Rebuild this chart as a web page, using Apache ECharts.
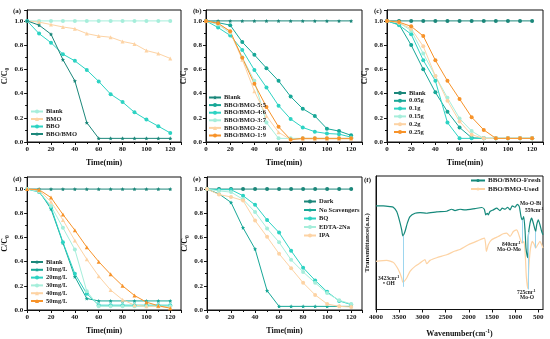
<!DOCTYPE html>
<html><head><meta charset="utf-8">
<script src="https://cdn.jsdelivr.net/npm/echarts@6/dist/echarts.min.js"></script>
<style>html,body{margin:0;padding:0;background:#fff}#c{width:550px;height:339px}</style>
</head><body><div id="c"></div>
<script>
// ---------- data ----------
const timeMin = [0,10,20,30,40,50,60,70,80,90,100,110,120];
const timeTicks = [0,20,40,60,80,100,120];
const yTicks = [0.0,0.2,0.4,0.6,0.8,1.0];

// (a)
const aNames = ['Blank','BMO','BBO','BBO/BMO'];
const aBlank = [1,1,1,1,1,1,1,1,1,1,1,1,1];
const aBMO = [1.0,0.99,0.97,0.95,0.935,0.895,0.875,0.865,0.83,0.81,0.755,0.73,0.69];
const aBBO = [1.0,0.895,0.82,0.725,0.67,0.595,0.50,0.395,0.33,0.245,0.185,0.13,0.075];
const aBBOBMO = [1.0,0.965,0.89,0.68,0.505,0.16,0.03,0.03,0.03,0.03,0.03,0.03,0.03];

// (b)
const bNames = ['Blank','BBO/BMO-5:5','BBO/BMO-4:6','BBO/BMO-3:7','BBO/BMO-2:8','BBO/BMO-1:9'];
const bBlank = [1,1,1,1,1,1,1,1,1,1,1,1,1];
const b55 = [1,0.985,0.965,0.825,0.72,0.61,0.505,0.375,0.275,0.215,0.11,0.09,0.055];
const b46 = [1,0.945,0.88,0.76,0.595,0.45,0.30,0.19,0.12,0.085,0.07,0.065,0.04];
const b37 = [1,0.97,0.90,0.70,0.505,0.16,0.03,0.03,0.03,0.03,0.03,0.03,0.03];
const b28 = [1,0.98,0.91,0.68,0.42,0.215,0.08,0.02,0.025,0.025,0.025,0.025,0.025];
const b19 = [1,0.98,0.915,0.695,0.48,0.29,0.125,0.02,0.03,0.03,0.03,0.03,0.03];

// (c)
const cNames = ['Blank','0.05g','0.1g','0.15g','0.2g','0.25g'];
const cBlank = [1,1,1,1,1,1,1,1,1,1,1,1,1];
const c005 = [1,0.97,0.80,0.60,0.41,0.25,0.12,0.035,0.03,0.03,0.03,0.03,0.03];
const c01 = [1,0.965,0.89,0.675,0.505,0.16,0.03,0.03,0.03,0.03,0.03,0.03,0.03];
const c015 = [1,0.985,0.92,0.73,0.545,0.365,0.195,0.09,0.03,0.03,0.03,0.03,0.03];
const c02 = [1,0.985,0.935,0.79,0.545,0.34,0.17,0.06,0.03,0.03,0.03,0.03,0.03];
const c025 = [1,0.99,0.955,0.875,0.675,0.505,0.355,0.205,0.10,0.03,0.03,0.03,0.03];

// (d)
const dNames = ['Blank','10mg/L','20mg/L','30mg/L','40mg/L','50mg/L'];
const dBlank = [1,1,1,1,1,1,1,1,1,1,1,1,1];
const d10 = [1,0.985,0.835,0.555,0.275,0.095,0.075,0.075,0.075,0.075,0.075,0.075,0.075];
const d20 = [1,0.975,0.85,0.56,0.30,0.135,0.04,0.04,0.04,0.04,0.04,0.04,0.04];
const d30 = [1,0.98,0.86,0.68,0.50,0.155,0.03,0.03,0.03,0.03,0.03,0.03,0.03];
const d40 = [1,0.99,0.895,0.745,0.575,0.42,0.28,0.165,0.085,0.04,0.03,0.03,0.02];
const d50 = [1,0.995,0.93,0.79,0.66,0.52,0.40,0.295,0.20,0.12,0.065,0.035,0.015];

// (e)
const eNames = ['Dark','No Scavengers','BQ','EDTA-2Na','IPA'];
const eDark = [1,1,1,1,1,1,1,1,1,1,1,1,1];
const eNo = [1,0.96,0.89,0.68,0.505,0.16,0.03,0.03,0.03,0.03,0.03,0.03,0.03];
const eBQ = [1,0.995,0.995,0.945,0.87,0.745,0.64,0.49,0.35,0.245,0.15,0.075,0.045];
const eEDTA = [1,0.985,0.975,0.915,0.81,0.675,0.56,0.415,0.315,0.225,0.14,0.08,0.05];
const eIPA = [1,0.955,0.935,0.905,0.74,0.605,0.465,0.345,0.225,0.125,0.05,0.03,0.025];

// (f) FTIR
const fNames = ['BBO/BMO-Fresh','BBO/BMO-Used'];
const waveTicks = [4000,3500,3000,2500,2000,1500,1000,500];
const freshWave = [4000,3842,3698,3627,3554,3498,3446,3423,3375,3325,3267,3159,3051,2907,2692,2476,2368,2297,2189,2082,1866,1722,1665,1635,1601,1579,1543,1471,1399,1327,1277,1219,1161,1111,1062,1004,954,911,874,846,816,788,767,740,725,717,680,644,609,559,536,501,465,428,400];
const freshT = [77.6,77.6,77.1,76.6,73.4,67.2,59.7,55.2,58.4,64.7,69.6,72.1,72.6,72.1,73.1,73.6,75.1,74.1,75.1,74.6,75.6,76.4,75.1,70.9,72.1,70.9,73.4,74.6,75.9,74.1,75.9,75.1,76.6,74.6,77.6,76.6,78.8,77.1,69.6,67.2,69.6,59.7,46,40,38.8,54.7,64.7,68.4,64.7,58.4,63.4,67.2,63.4,58.4,56];
const usedWave = [4000,3769,3627,3519,3446,3423,3338,3267,3159,3051,2944,2907,2836,2692,2476,2297,2189,2010,1795,1665,1635,1620,1579,1507,1363,1256,1183,1111,1040,967,932,874,840,810,781,760,740,725,708,673,630,587,559,514,465,428,400];
const usedT = [36.1,36.8,35.3,29.9,23.6,20.4,23.6,28.6,32.3,34.8,37.3,34.3,36.8,38.8,41,43.8,45,48.5,51.7,53.5,48.5,43.5,48.5,52.2,54.7,56.7,57.2,54.7,58.4,59.7,57.2,51,49.8,51,39.8,24.9,18,15.7,29.9,44.8,51,48.5,46,48.5,51,48.5,46];
const annoWave = [3423,840,725,559];
const annoTop = [55.2,67.2,58,58.4];
const annoBottom = [17,49.8,15,46];

// ---------- styling ----------
const FF = '"Liberation Serif","Times New Roman",serif';
const C = {dark:'#1b877a', teal:'#17a797', cyan:'#2dd3c3', lcyan:'#a6eedb', lor:'#fdd3a4', or:'#f7932a', blue:'#9dd6ef', ink:'#111'};

const grids = [
  {left:26, top:10, width:155, height:132},
  {left:206, top:10, width:156, height:132},
  {left:387, top:10, width:156, height:132},
  {left:26, top:177, width:155, height:133},
  {left:207, top:177, width:155, height:133},
  {left:376, top:176, width:167, height:134}
].map(g => Object.assign({show:true, borderColor:C.ink, borderWidth:1, backgroundColor:'transparent'}, g));

function tAxis(gi){
  return {gridIndex:gi, type:'value', min:0, max:129, interval:20,
    name:'Time(min)', nameLocation:'middle', nameGap:17,
    nameTextStyle:{fontFamily:FF, fontWeight:'bold', fontSize:8, color:C.ink},
    axisLine:{show:true, lineStyle:{color:C.ink, width:1}},
    axisTick:{show:true, length:3, lineStyle:{color:C.ink}},
    minorTick:{show:true, splitNumber:2, length:2, lineStyle:{color:C.ink}},
    splitLine:{show:false},
    axisLabel:{fontFamily:FF, fontWeight:'bold', fontSize:7, color:C.ink, margin:4, showMaxLabel:false,
      formatter: v => timeTicks.indexOf(v) >= 0 ? String(v) : ''}};
}
function cAxis(gi, max){
  return {gridIndex:gi, type:'value', min:0, max:max, interval:0.2,
    name:'C/C{s|0}', nameLocation:'middle', nameGap:14,
    nameTextStyle:{fontFamily:FF, fontWeight:'bold', fontSize:8, color:C.ink,
      rich:{s:{fontFamily:FF, fontWeight:'bold', fontSize:5.5, color:C.ink, padding:[5,0,0,0]}}},
    axisLine:{show:true, lineStyle:{color:C.ink, width:1}},
    axisTick:{show:true, length:3, lineStyle:{color:C.ink}},
    minorTick:{show:true, splitNumber:2, length:2, lineStyle:{color:C.ink}},
    splitLine:{show:false},
    axisLabel:{fontFamily:FF, fontWeight:'bold', fontSize:7, color:C.ink, margin:4, showMaxLabel:false,
      formatter: v => yTicks.some(t => Math.abs(t - v) < 1e-6) ? v.toFixed(1) : ''}};
}

const uniq = (name, k) => name + '\u200b'.repeat(k);

function ser(name, gi, arr, color, symbol){
  return {name:name, type:'line', xAxisIndex:gi, yAxisIndex:gi,
    data: timeMin.map((t,i) => [t, arr[i]]),
    symbol: symbol || 'circle', symbolSize:4, showSymbol:true,
    lineStyle:{color:color, width:1}, itemStyle:{color:color}, animation:false};
}

const star = 'path://M0,-10 L2.9,-4 L9.5,-3.1 L4.8,1.5 L5.9,8.1 L0,5 L-5.9,8.1 L-4.8,1.5 L-9.5,-3.1 L-2.9,-4 Z';

const series = [
  ser(uniq(aNames[0],0),0,aBlank,C.lcyan,'circle'),
  ser(aNames[1],0,aBMO,C.lor,'triangle'),
  ser(aNames[2],0,aBBO,C.cyan,'circle'),
  ser(aNames[3],0,aBBOBMO,C.dark,star),

  ser(uniq(bNames[0],1),1,bBlank,C.dark,star),
  ser(bNames[1],1,b55,C.teal,'circle'),
  ser(bNames[2],1,b46,C.cyan,'circle'),
  ser(bNames[3],1,b37,C.lcyan,'circle'),
  ser(bNames[4],1,b28,C.lor,'triangle'),
  ser(bNames[5],1,b19,C.or,'circle'),

  ser(uniq(cNames[0],2),2,cBlank,C.dark,'circle'),
  ser(cNames[1],2,c005,C.teal,'circle'),
  ser(cNames[2],2,c01,C.cyan,'circle'),
  ser(cNames[3],2,c015,C.lcyan,'circle'),
  ser(cNames[4],2,c02,C.lor,'circle'),
  ser(cNames[5],2,c025,C.or,'circle'),

  ser(uniq(dNames[0],3),3,dBlank,C.dark,star),
  ser(dNames[1],3,d10,C.teal,star),
  ser(dNames[2],3,d20,C.cyan,'circle'),
  ser(dNames[3],3,d30,C.lcyan,'circle'),
  ser(dNames[4],3,d40,C.lor,'triangle'),
  ser(dNames[5],3,d50,C.or,'triangle'),

  ser(eNames[0],4,eDark,C.dark,'circle'),
  ser(eNames[1],4,eNo,C.teal,star),
  ser(eNames[2],4,eBQ,C.cyan,'circle'),
  ser(eNames[3],4,eEDTA,C.lcyan,'circle'),
  ser(eNames[4],4,eIPA,C.lor,'circle'),

  {name:fNames[1], type:'line', xAxisIndex:5, yAxisIndex:5, data: usedWave.map((w,i)=>[w, usedT[i]]),
    showSymbol:false, symbol:'none', smooth:0.2, lineStyle:{color:C.lor, width:1.2}, itemStyle:{color:C.lor}, animation:false},
  {name:fNames[0], type:'line', xAxisIndex:5, yAxisIndex:5, data: freshWave.map((w,i)=>[w, freshT[i]]),
    showSymbol:false, symbol:'none', smooth:0.2, lineStyle:{color:'#15897b', width:1.2}, itemStyle:{color:'#15897b'}, animation:false,
    markLine:{silent:true, symbol:['none','none'], label:{show:false}, animation:false,
      lineStyle:{color:C.blue, width:1, type:'solid'},
      data: annoWave.map((w,i)=>[{coord:[w, annoTop[i]]},{coord:[w, annoBottom[i]]}])}}
];

function leg(names, left, top, gap, fs, iw){
  return {orient:'vertical', left:left, top:top, itemWidth:iw||12, itemHeight:5, itemGap:gap, padding:0,
    selectedMode:false, inactiveColor:'#ccc',
    textStyle:{fontFamily:FF, fontWeight:'bold', fontSize:fs||6.5, lineHeight:7, color:'#222', padding:[0,0,0,-2]},
    data:names};
}

const legends = [
  leg([uniq(aNames[0],0)].concat(aNames.slice(1)), 30, 108, 0.5),
  leg([uniq(bNames[0],1)].concat(bNames.slice(1)), 208, 94, 0.6),
  leg([uniq(cNames[0],2)].concat(cNames.slice(1)), 393, 89.5, 0.8),
  leg([uniq(dNames[0],3)].concat(dNames.slice(1)), 30, 258.5, 0.8),
  leg(eNames, 303, 198, 1.5),
  Object.assign(leg(fNames, 470, 177, 1.5, 7, 14), {itemHeight:4})
];

const xAxes = [tAxis(0),tAxis(1),tAxis(2),tAxis(3),tAxis(4),
  {gridIndex:5, type:'value', inverse:true, min:400, max:4000,
    name:'Wavenumber(cm{p|-1})', nameLocation:'middle', nameGap:19,
    nameTextStyle:{fontFamily:FF, fontWeight:'bold', fontSize:8, color:C.ink,
      rich:{p:{fontFamily:FF, fontWeight:'bold', fontSize:5.5, color:C.ink, padding:[0,0,5,0]}}},
    axisLine:{show:true, lineStyle:{color:C.ink}},
    axisTick:{show:true, length:3, customValues:waveTicks, lineStyle:{color:C.ink}},
    axisLabel:{fontFamily:FF, fontWeight:'bold', fontSize:7, color:C.ink, margin:4, customValues:waveTicks,
      formatter: v => String(v)},
    splitLine:{show:false}}];
const yAxes = [cAxis(0,1.09),cAxis(1,1.09),cAxis(2,1.09),cAxis(3,1.1),cAxis(4,1.1),
  {gridIndex:5, type:'value', min:0, max:100,
    name:'Transmittance(a.u.)', nameLocation:'middle', nameGap:5,
    nameTextStyle:{fontFamily:FF, fontWeight:'bold', fontSize:7, color:C.ink},
    axisLine:{show:true, lineStyle:{color:C.ink}}, axisTick:{show:false}, axisLabel:{show:false}, splitLine:{show:false}}];

const lab = (text, left, top, size) => ({type:'text', left:left, top:top, silent:true,
  style:{text:text, font:'bold ' + (size||7) + 'px ' + FF, fill:C.ink}});
const rlab = (text, left, top) => ({type:'text', left:left, top:top, silent:true,
  style:{text:text, fill:'#222', font:'bold 5.5px ' + FF,
    rich:{p:{font:'bold 4px ' + FF, fill:'#222', padding:[0,0,3,0]}}}});

const graphic = [
  lab('(a)', 13, 8), lab('(b)', 193, 8), lab('(c)', 374, 8),
  lab('(d)', 13, 176), lab('(e)', 193, 176), lab('(f)', 364, 177),
  rlab('3423cm{p|-1}', 378, 275), rlab('• OH', 383, 281),
  rlab('840cm{p|-1}', 502, 241), rlab('Mo-O-Mo', 497, 247),
  rlab('Mo-O-Bi', 520, 201), rlab('559cm{p|-1}', 525, 207),
  rlab('725cm{p|-1}', 517, 289), rlab('Mo-O', 520, 295)
];

const chart = echarts.init(document.getElementById('c'), null, {renderer:'canvas'});
chart.setOption({animation:false, backgroundColor:'#fff', grid:grids, xAxis:xAxes, yAxis:yAxes,
  legend:legends, series:series, graphic:graphic});
</script></body></html>
